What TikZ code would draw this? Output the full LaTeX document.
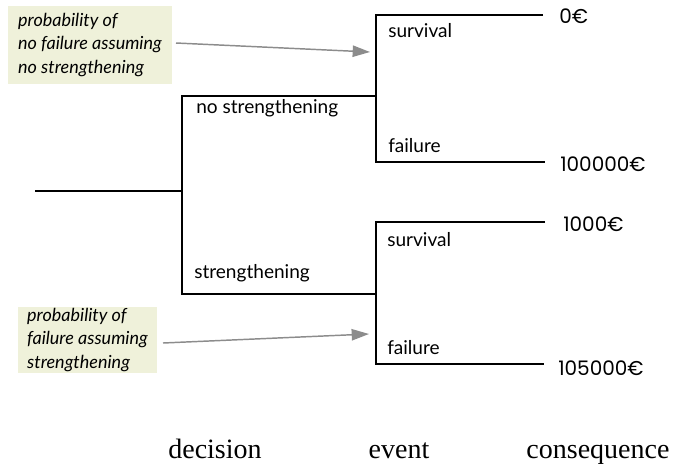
\documentclass[tikz,border=0pt]{standalone}
\usepackage{fontspec}
\usetikzlibrary{arrows.meta}
\newfontfamily\lblfont{Lato}
\newfontfamily\numfont{Poppins}
\newfontfamily\catfont{Liberation Serif}
\definecolor{notefill}{HTML}{EFF1DA}
\definecolor{notearrow}{HTML}{8C8C8C}
\begin{document}
\begin{tikzpicture}[x=0.75pt,y=-0.75pt,
  branch/.style={line width=1pt,black},
  lbl/.style={anchor=west,inner sep=0pt,font=\lblfont\fontsize{14.3}{16}\selectfont},
  val/.style={anchor=west,inner sep=0pt,font=\numfont\fontsize{15}{17}\selectfont},
  cat/.style={anchor=base,inner sep=0pt,font=\catfont\fontsize{21}{24}\selectfont},
  note/.style={fill=notefill,inner sep=0pt,align=left,font=\lblfont\itshape\fontsize{13.5}{17.3}\selectfont},
  notearr/.style={draw=notearrow,line width=1.1pt,-{Triangle[length=13pt,width=8.5pt]}}]
\useasboundingbox (0,0) rectangle (700,465);
% junction coordinates
\coordinate (root) at (35,191);
\coordinate (d) at (182,191);
\coordinate (dU) at (182,96);
\coordinate (dL) at (182,294);
\coordinate (eU) at (376,96);
\coordinate (eUt) at (376,15);
\coordinate (eUb) at (376,162);
\coordinate (eL) at (376,294);
\coordinate (eLt) at (376,222);
\coordinate (eLb) at (376,364);
\coordinate (cUs) at (543,15);
\coordinate (cUf) at (545,162);
\coordinate (cLs) at (545,222);
\coordinate (cLf) at (544,364);
% tree
\draw[branch] (root) -- (d);
\draw[branch] (eU) -- (dU) -- (dL) -- (eL);
\draw[branch] (cUs) -- (eUt) -- (eUb) -- (cUf);
\draw[branch] (cLs) -- (eLt) -- (eLb) -- (cLf);
% branch labels
\node[lbl] (lns) at (196,108) {no strengthening};
\node[lbl] (ls) at (194,273) {strengthening};
\node[lbl] (lus) at (388,31) {survival};
\node[lbl] (luf) at (388,146) {failure};
\node[lbl] (lls) at (387,240) {survival};
\node[lbl] (llf) at (387,348) {failure};
% consequences
\node[val] (v1) at (559,16) {0€};
\node[val] (v2) at (560,164) {100000€};
\node[val] (v3) at (563,224) {1000€};
\node[val] (v4) at (558,368) {105000€};
% notes
\node[note,minimum width=123pt,minimum height=58.5pt] (n1) at (90,45)
  {probability of\\no failure assuming\\no strengthening};
\node[note,minimum width=104pt,minimum height=50pt] (n2) at (87.5,340)
  {probability of\\failure assuming\\strengthening};
\coordinate (a1s) at (176,43);
\coordinate (a1e) at (370,52);
\coordinate (a2s) at (163,343);
\coordinate (a2e) at (369,334);
\draw[notearr] (a1s) -- (a1e);
\draw[notearr] (a2s) -- (a2e);
% categories
\node[cat] (cd) at (215,458) {decision};
\node[cat] (ce) at (399,458) {event};
\node[cat] (cc) at (598,458) {consequence};
\end{tikzpicture}
\end{document}
